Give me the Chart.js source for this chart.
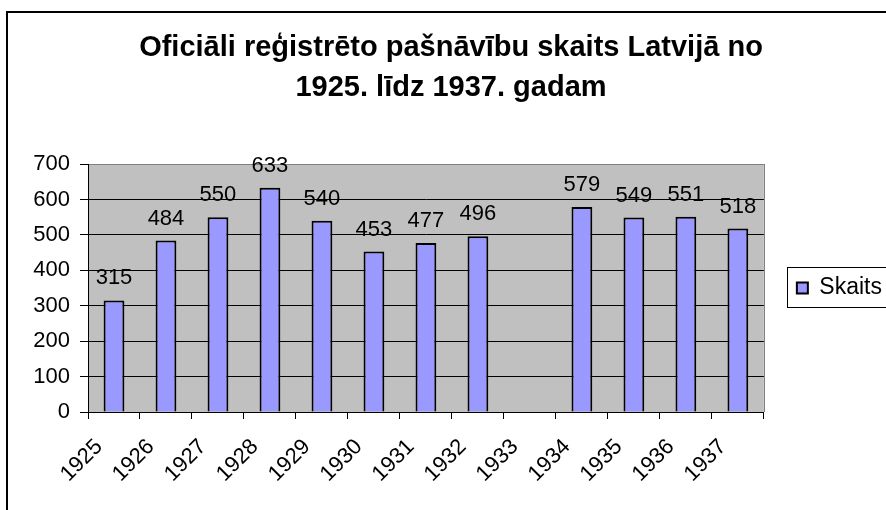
<!DOCTYPE html>
<html>
<head>
<meta charset="utf-8">
<script src="https://cdn.jsdelivr.net/npm/chart.js@4.4.1/dist/chart.umd.min.js"></script>
<style>
  html, body { margin: 0; padding: 0; background: #ffffff; }
  #wrap { width: 886px; height: 510px; }
</style>
</head>
<body>
<div id="wrap"><canvas id="c" width="886" height="510"></canvas></div>
<script>
const categories = ['1925','1926','1927','1928','1929','1930','1931','1932','1933','1934','1935','1936','1937'];
const skaits = [315, 484, 550, 633, 540, 453, 477, 496, null, 579, 549, 551, 518];
const seriesName = 'Skaits';
const titleLines = ['Oficiāli reģistrēto pašnāvību skaits Latvijā no', '1925. līdz 1937. gadam'];
const yTicks = { min: 0, max: 700, step: 100 };

const FONT = "'Liberation Sans', Arial, sans-serif";

const framePlugin = {
  id: 'frame',
  beforeDraw(chart) {
    const ctx = chart.ctx;
    const a = chart.chartArea;
    ctx.save();
    ctx.fillStyle = '#ffffff';
    ctx.fillRect(0, 0, chart.width, chart.height);
    ctx.strokeStyle = '#000000';
    ctx.lineWidth = 2;
    ctx.strokeRect(7, 12, 1000, 1000);
    ctx.fillStyle = '#c0c0c0';
    ctx.fillRect(a.left, a.top, a.right - a.left, a.bottom - a.top);
    ctx.strokeStyle = '#808080';
    ctx.lineWidth = 1;
    ctx.beginPath();
    ctx.moveTo(Math.round(a.right) + 0.5, a.top);
    ctx.lineTo(Math.round(a.right) + 0.5, a.bottom);
    ctx.stroke();
    // legend frame
    ctx.strokeStyle = '#000000';
    ctx.strokeRect(787.5, 267.5, 120, 40);
    ctx.restore();
  },
  afterLayout(chart) {
    const lg = chart.legend;
    if (lg) { lg.left += 13; lg.right += 13; lg.top += 33; lg.bottom += 33; }
  },
  afterDatasetsDraw(chart) {
    const ctx = chart.ctx;
    const meta = chart.getDatasetMeta(0);
    const data = chart.data.datasets[0].data;
    ctx.save();
    ctx.font = "22px " + FONT;
    ctx.fillStyle = '#000000';
    ctx.textAlign = 'center';
    ctx.textBaseline = 'alphabetic';
    meta.data.forEach((el, i) => {
      if (data[i] === null || data[i] === undefined) return;
      ctx.fillText(String(data[i]), el.x, el.y - 16);
    });
    ctx.restore();
  }
};

new Chart(document.getElementById('c'), {
  type: 'bar',
  data: {
    labels: categories,
    datasets: [{
      label: seriesName,
      data: skaits,
      backgroundColor: '#9999ff',
      borderColor: '#000000',
      borderWidth: 2,
      barPercentage: 0.8,
      categoryPercentage: 0.5
    }]
  },
  options: {
    responsive: false,
    animation: false,
    devicePixelRatio: 1,
    layout: { padding: { left: 23, right: 7, top: 0, bottom: 0 } },
    plugins: {
      title: {
        display: true,
        text: titleLines,
        color: '#000000',
        font: { family: FONT, size: 29, weight: 'bold', lineHeight: 1.38 },
        padding: { top: 28, bottom: 56 }
      },
      legend: {
        display: true,
        position: 'right',
        labels: {
          color: '#000000',
          font: { family: FONT, size: 23 },
          boxWidth: 11,
          boxHeight: 11,
          padding: 20
        }
      },
      tooltip: { enabled: false }
    },
    scales: {
      x: {
        grid: { display: true, drawOnChartArea: false, drawTicks: true, tickLength: 7, color: '#000000', offset: true },
        border: { display: true, color: '#000000', width: 1 },
        ticks: { color: '#000000', font: { family: FONT, size: 22 }, minRotation: 45, maxRotation: 45, autoSkip: false, padding: 15, labelOffset: -15 },
        afterFit(scale) { scale.height = 98; }
      },
      y: {
        min: yTicks.min,
        max: yTicks.max,
        grid: {
          color: (ctx) => (ctx.tick && ctx.tick.value === yTicks.max) ? '#808080' : '#000000',
          tickColor: '#000000',
          tickLength: 8,
          lineWidth: 1
        },
        border: { display: true, color: '#000000', width: 1 },
        ticks: { stepSize: yTicks.step, color: '#000000', font: { family: FONT, size: 22 }, padding: 10 },
        afterFit(scale) { scale.width = 65; }
      }
    }
  },
  plugins: [framePlugin]
});
</script>
</body>
</html>
